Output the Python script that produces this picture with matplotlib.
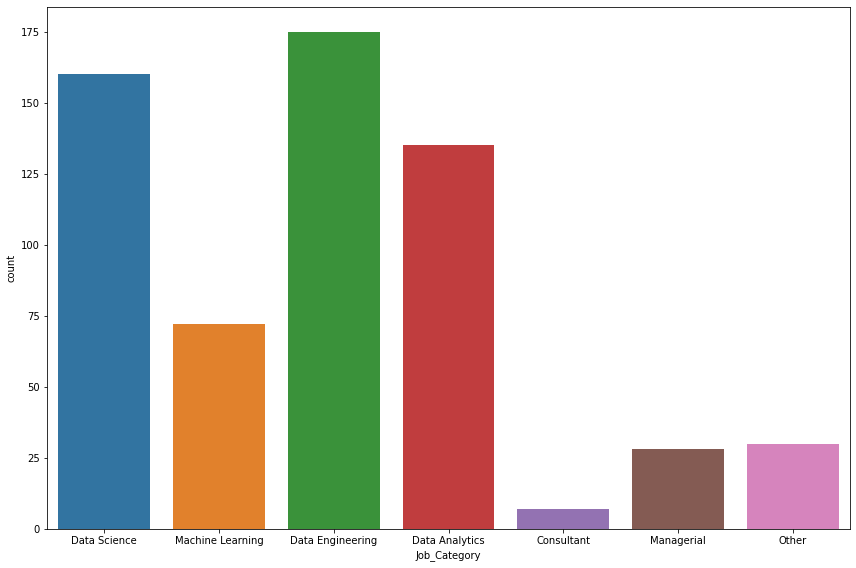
import matplotlib
matplotlib.use("Agg")
import matplotlib.pyplot as plt

categories = ["Data Science", "Machine Learning", "Data Engineering", "Data Analytics",
              "Consultant", "Managerial", "Other"]
counts = [160, 72, 175, 135, 7, 28, 30]
colors = ["#3274a1", "#e1812c", "#3a923a", "#c03d3e", "#9372b2", "#845b53", "#d684bd"]

fig = plt.figure(figsize=(856/72, 568/72), dpi=72)
ax = fig.add_axes([47/856, 1 - 529/568, (850-47)/856, (529-7)/568])
x = list(range(len(categories)))
ax.bar(x, counts, width=0.8, color=colors)
ax.set_xticks(x)
ax.set_xticklabels(categories)
ax.set_xlim(-0.5, len(categories) - 0.5)
ax.set_ylim(0, max(counts) * 1.05)
ax.set_yticks([0, 25, 50, 75, 100, 125, 150, 175])
ax.set_xlabel("Job_Category")
ax.set_ylabel("count")
fig.savefig("out.png", dpi=72)
